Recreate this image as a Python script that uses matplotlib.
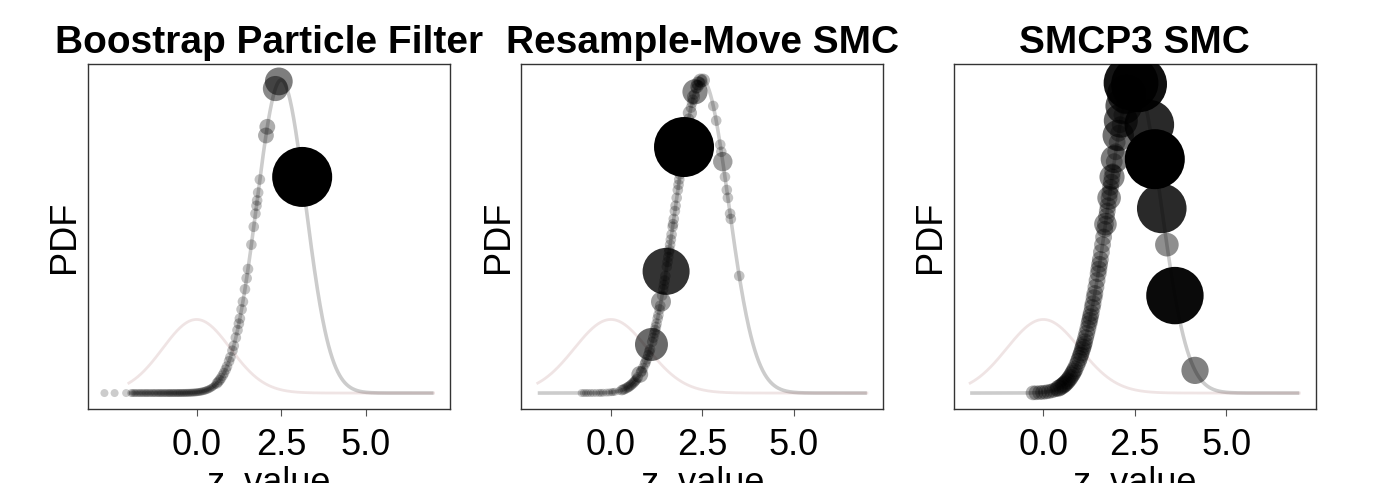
import numpy as np
import matplotlib
matplotlib.use("Agg")
import matplotlib.pyplot as plt

plt.rcParams['font.family'] = ['Liberation Sans', 'DejaVu Sans']

# ---------------- data ----------------
titles = ["Boostrap Particle Filter", "Resample-Move SMC", "SMCP3 SMC"]
xlabel_text = "z_value"
ylabel_text = "PDF"
xtick_values = [0.0, 2.5, 5.0]
xtick_labels = ["0.0", "2.5", "5.0"]

curve_range = (-2.0, 7.0)
prior_mean, prior_sd = 0.0, 1.0
posterior_mean, posterior_sd = 2.5, 0.72
prior_peak_ratio = 0.235          # prior peak height relative to posterior peak

# --- Bootstrap particle filter: tail particles, rising particles, heavy particles
bpf_tail_w = 0.0
bpf_tail_x = [-2.72, -2.42, -2.08,
              -1.93, -1.89, -1.84, -1.80, -1.75, -1.70, -1.66, -1.61, -1.57, -1.52,
              -1.48, -1.44, -1.39, -1.35, -1.30, -1.26, -1.22, -1.17, -1.13, -1.09,
              -1.05, -1.01, -0.97, -0.93, -0.89, -0.85, -0.81, -0.78, -0.74, -0.70,
              -0.67, -0.63, -0.59, -0.56, -0.52, -0.49, -0.45, -0.42, -0.38, -0.35,
              -0.31, -0.28, -0.24, -0.21, -0.17, -0.14, -0.10, -0.07, -0.03, 0.00,
              0.04, 0.07, 0.11, 0.14, 0.18, 0.21, 0.25, 0.28, 0.32, 0.35, 0.39,
              0.42, 0.46, 0.49, 0.53, 0.56]
bpf_rise_w = 0.05
bpf_rise_x = [0.60, 0.64, 0.68, 0.72, 0.77, 0.81, 0.86, 0.90, 0.96, 1.00, 1.06,
              1.10, 1.16, 1.21, 1.25, 1.28, 1.33, 1.37, 1.43, 1.48, 1.52, 1.62,
              1.69, 1.74, 1.77, 1.79, 1.82, 1.87]
bpf_heavy_x = [2.05, 2.09, 2.33, 2.43, 3.12]
bpf_heavy_w = [0.15, 0.15, 0.33, 0.38, 1.0]

# --- Resample-Move SMC
rm_tail_w = 0.0
rm_tail_x = [-0.80, -0.74, -0.68, -0.62, -0.55, -0.48, -0.40, -0.32, -0.27, -0.21,
             -0.12, -0.05, 0.02, 0.06, 0.11, 0.22]
rm_light_w = 0.05
rm_light_x = [0.30, 0.34, 0.38, 0.43, 0.47,
              0.50, 0.54, 0.57, 0.61, 0.64, 0.67, 0.70, 0.74, 0.82, 0.84, 0.88,
              0.93, 0.95, 0.98, 1.02, 1.05, 1.07, 1.13, 1.16, 1.19, 1.21, 1.23,
              1.25, 1.28, 1.30, 1.33, 1.35, 1.40, 1.43, 1.45, 1.47, 1.49, 1.53,
              1.55, 1.57, 1.59, 1.60, 1.62, 1.64, 1.66, 1.69, 1.70, 1.72, 1.75,
              1.77, 1.80, 1.83, 1.85, 1.87, 1.89, 1.92, 1.95, 1.97, 2.02, 2.05,
              2.07, 2.10, 2.13, 2.19, 2.22, 2.24, 2.28, 2.33, 2.37, 2.42, 2.48,
              2.80, 2.88, 2.99, 3.02, 3.12, 3.17, 3.20, 3.26, 3.28, 3.51]
rm_heavy_x = [0.79, 1.11, 1.37, 1.51, 2.00, 2.16, 2.26, 2.30, 2.35, 2.39,
              2.45, 2.53, 3.06]
rm_heavy_w = [0.17, 0.48, 0.23, 0.75, 1.0, 0.12, 0.10, 0.33, 0.10, 0.12,
              0.12, 0.10, 0.22]

# --- SMCP3 SMC
smcp3_tail_w = 0.13
smcp3_tail_x = [-0.28, -0.20, -0.10, -0.02, 0.06, 0.14, 0.22, 0.29, 0.36]
smcp3_light_w = 0.17
smcp3_light_x = [0.41, 0.45, 0.50, 0.54, 0.57, 0.60, 0.64, 0.67, 0.71, 0.74,
                 0.78, 0.81, 0.84, 0.87, 0.92, 0.96, 0.99, 1.02, 1.04, 1.07,
                 1.09, 1.11, 1.13, 1.16, 1.19, 1.22, 1.25, 1.27, 1.29, 1.31,
                 1.34, 1.36, 1.39, 1.41, 1.44, 1.47, 1.50, 1.52, 1.54, 1.56,
                 1.59, 1.62, 1.65, 1.68, 1.70, 1.73, 1.75, 1.77, 1.80, 1.82,
                 1.84, 1.86, 1.88, 1.90, 1.94, 1.98, 2.02, 2.06, 2.10, 2.15,
                 2.20, 2.25]
smcp3_heavy_x = [1.70, 1.80, 1.88, 1.95, 2.05, 2.12, 2.20, 2.28, 2.40, 2.62,
                 2.90, 3.05, 3.24, 3.38, 3.60, 4.15]
smcp3_heavy_w = [0.28, 0.30, 0.33, 0.38, 0.45, 0.50, 0.55, 0.60, 0.90, 0.92,
                 0.80, 1.0, 0.80, 0.30, 0.95, 0.37]

panels = [
    [(bpf_tail_x, bpf_tail_w), (bpf_rise_x, bpf_rise_w), (bpf_heavy_x, bpf_heavy_w)],
    [(rm_tail_x, rm_tail_w), (rm_light_x, rm_light_w), (rm_heavy_x, rm_heavy_w)],
    [(smcp3_tail_x, smcp3_tail_w), (smcp3_light_x, smcp3_light_w),
     (smcp3_heavy_x, smcp3_heavy_w)],
]


def normal_pdf(x, mu, sd):
    return np.exp(-0.5 * ((x - mu) / sd) ** 2) / (sd * np.sqrt(2 * np.pi))


post_peak = normal_pdf(posterior_mean, posterior_mean, posterior_sd)
prior_scale = prior_peak_ratio * post_peak / normal_pdf(prior_mean, prior_mean, prior_sd)

# ---------------- figure ----------------
W, H = 1388, 483
fig = plt.figure(figsize=(W / 100, H / 100), dpi=100)
ax_lefts = [88, 521.3, 953.7]
ax_w, ax_top, ax_bot = 362, 64.3, 408.7

zgrid = np.linspace(curve_range[0], curve_range[1], 500)
post_curve = normal_pdf(zgrid, posterior_mean, posterior_sd)
prior_curve = prior_scale * normal_pdf(zgrid, prior_mean, prior_sd)


def draw_particles(ax, xs, ws):
    xs = np.asarray(xs, dtype=float)
    ws = np.broadcast_to(np.asarray(ws, dtype=float), xs.shape)
    ys = normal_pdf(xs, posterior_mean, posterior_sd)
    diam_px = 8 + 52 * ws
    sizes = (diam_px * 0.72) ** 2
    colors = np.zeros((len(xs), 4))
    colors[:, 3] = np.clip(0.2 + 0.8 * ws, 0, 1)
    ax.scatter(xs, ys, s=sizes, c=colors, linewidths=0, zorder=3)


for i, (title, groups) in enumerate(zip(titles, panels)):
    ax = fig.add_axes([ax_lefts[i] / W, (H - ax_bot) / H, ax_w / W, (ax_bot - ax_top) / H])
    ax.plot(zgrid, post_curve, color="black", alpha=0.2, lw=2.6, solid_capstyle="butt", zorder=1)
    ax.plot(zgrid, prior_curve, color=(0.6, 0.3, 0.3), alpha=0.15, lw=2.0, zorder=2)
    for gx, gw in groups:
        draw_particles(ax, gx, gw)

    ax.set_xticks(xtick_values)
    ax.set_xticklabels(xtick_labels)
    ax.set_yticks([])
    ax.tick_params(axis="x", labelsize=26, length=5, width=0.8, color="#555555", pad=9)
    for sp in ax.spines.values():
        sp.set_color("#333333")
        sp.set_linewidth(1.0)
    ax.set_title(title, fontsize=28, fontweight="bold", pad=8)
    ax.set_ylabel(ylabel_text, fontsize=26, labelpad=4)
    ax.set_xlabel(xlabel_text, fontsize=26, labelpad=2)

fig.savefig("out.png", dpi=100)
